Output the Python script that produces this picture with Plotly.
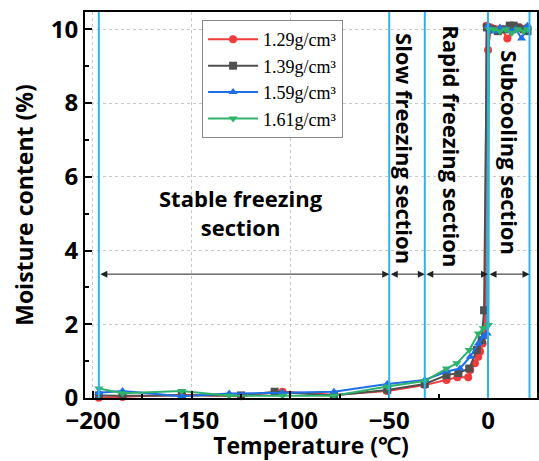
import plotly.graph_objects as go

# ---- data ----
series_names = ["1.29g/cm\u00b3", "1.39g/cm\u00b3", "1.59g/cm\u00b3", "1.61g/cm\u00b3"]

red_T = [-197, -185, -155, -125, -104, -78, -51, -32, -21, -15.5, -10, -9, -6.6, -4.9, -4, -2.7, -1.5, -0.8, 0, 1.5, 4, 7, 9.8, 13, 16, 20]
red_M = [0.01, 0.03, 0.09, 0.05, 0.17, 0.09, 0.19, 0.35, 0.49, 0.56, 0.56, 0.76, 0.94, 1.12, 1.26, 1.48, 1.7, 10.1, 9.44, 10.05, 10.0, 10.0, 9.75, 10.0, 10.05, 10.05]

gray_T = [-197, -185, -155, -125, -108, -78, -51, -32, -21, -15, -9.5, -5.7, -3.2, -2, -0.5, 2, 5, 8, 11, 13, 15, 18, 20]
gray_M = [0.07, 0.06, 0.07, 0.07, 0.17, 0.07, 0.22, 0.38, 0.62, 0.68, 0.8, 1.3, 1.57, 2.38, 10.05, 10.0, 9.95, 10.0, 10.1, 10.1, 10.05, 10.0, 9.95]

blue_T = [-197, -185, -155, -131, -104, -78, -51, -32, -21, -14.2, -9, -4.9, -2.4, -0.4, 0, 3, 6, 9, 12, 14, 17, 20]
blue_M = [0.14, 0.19, 0.05, 0.12, 0.14, 0.17, 0.38, 0.49, 0.72, 0.8, 1.12, 1.48, 1.66, 1.75, 10.1, 9.95, 10.05, 10.0, 9.95, 10.0, 9.75, 10.1]

green_T = [-197, -185, -155, -131, -104, -78, -51, -32, -21, -15.8, -9.5, -4.9, -2.4, 0.2, 0.5, 3, 6, 9, 12, 15, 18, 20]
green_M = [0.26, 0.13, 0.19, 0.06, 0.06, 0.06, 0.31, 0.46, 0.8, 0.94, 1.3, 1.75, 1.89, 1.98, 10.0, 10.0, 9.95, 10.0, 9.9, 10.0, 9.95, 10.0]

section_bounds = [-197, -50, -32, 0, 21]
section_labels = ["Stable freezing<br>section", "Slow freezing section", "Rapid freezing section", "Subcooling section"]

x_ticks = [-200, -150, -100, -50, 0]
y_ticks = [0, 2, 4, 6, 8, 10]

# ---- styles ----
colors = ["#F03C3C", "#505050", "#1F6FE6", "#2EB36B"]
symbols = ["circle", "square", "triangle-up", "triangle-down"]
vline_color = "#2BB5EA"
bold_font = "Open Sans"

fig = go.Figure()
for T, M, name, c, s in zip([red_T, gray_T, blue_T, green_T], [red_M, gray_M, blue_M, green_M],
                            series_names, colors, symbols):
    fig.add_trace(go.Scatter(x=T, y=M, name=name, mode="lines+markers",
                             line=dict(color=c, width=2),
                             marker=dict(symbol=s, size=8, color=c),
                             cliponaxis=False))

# vertical section lines
for b in section_bounds:
    fig.add_shape(type="line", x0=b, x1=b, xref="x", y0=0, y1=1, yref="paper",
                  line=dict(color=vline_color, width=2), layer="above")

# double arrows
arrow_y = 3.36
for a, b in zip(section_bounds[:-1], section_bounds[1:]):
    fig.add_annotation(x=b, y=arrow_y, ax=a, ay=arrow_y, xref="x", yref="y", axref="x", ayref="y",
                       text="", showarrow=True, arrowside="end+start", arrowhead=2, arrowsize=1.4,
                       arrowwidth=1, arrowcolor="#222222", standoff=0, startstandoff=0)

# section labels
label_pos = [(-125, 5.04, 0), (-42, 6.78, 90), (-18.2, 6.83, 90), (11.1, 6.64, 90)]
for txt, (lx, ly, ang) in zip(section_labels, label_pos):
    fig.add_annotation(x=lx, y=ly, xref="x", yref="y", text="<b>" + txt + "</b>", showarrow=False,
                       textangle=ang, font=dict(family=bold_font, size=22, color="black"),
                       xanchor="center", yanchor="middle")

axis_common = dict(showline=True, linecolor="black", linewidth=2, mirror=True,
                   ticks="inside", ticklen=7, tickwidth=2, tickcolor="black",
                   showgrid=True, gridcolor="#C8C8C8", griddash="dot", gridwidth=1,
                   zeroline=False, automargin=False,
                   tickfont=dict(family=bold_font, size=24, color="black"))

fig.update_xaxes(range=[-204, 24.8], tickvals=x_ticks, ticktext=["<b>%s</b>" % str(v).replace("-", "\u2212") for v in x_ticks],
                 minor=dict(ticks="inside", ticklen=4, tickwidth=2, tickcolor="black", dtick=25, tick0=0, showgrid=False),
                 title=dict(text="<b>Temperature (\u2103)</b>", font=dict(family=bold_font, size=23, color="black"), standoff=7),
                 **axis_common)
fig.update_yaxes(range=[0, 10.47], tickvals=y_ticks, ticktext=["<b>%d</b>" % v for v in y_ticks],
                 minor=dict(ticks="inside", ticklen=4, tickwidth=2, tickcolor="black", dtick=1, tick0=0, showgrid=False),
                 title=dict(text="<b>Moisture content (%)</b>", font=dict(family=bold_font, size=23, color="black"), standoff=11),
                 **axis_common)

fig.update_layout(
    width=539, height=461,
    margin=dict(l=85, r=2, t=12, b=63),
    paper_bgcolor="white", plot_bgcolor="white",
    legend=dict(x=0.259, y=0.979, xanchor="left", yanchor="top",
                bgcolor="white", bordercolor="#888888", borderwidth=1,
                font=dict(family="Liberation Serif", size=18, color="black"),
                itemwidth=50, tracegroupgap=0),
)

fig.write_html("out.html", config={"displayModeBar": False},
               post_script="document.body.style.margin='0';")
